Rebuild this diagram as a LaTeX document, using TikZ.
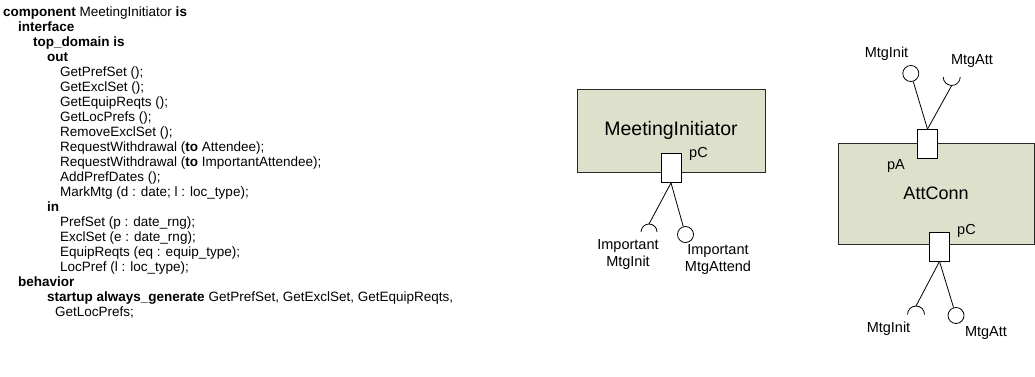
\documentclass[tikz,border=0pt]{standalone}
\usepackage{fontspec}
\setmainfont{Liberation Sans}
\usetikzlibrary{calc}

\definecolor{compfill}{RGB}{221,224,203}
\definecolor{edgegray}{RGB}{40,40,40}

\tikzset{
  code/.style={anchor=base west, inner sep=0pt, font=\fontsize{13.5}{15}\selectfont},
  comp/.style={draw=edgegray, fill=compfill, line width=0.9pt, inner sep=0pt},
  port/.style={draw=black, fill=white, line width=0.8pt, inner sep=0pt, minimum width=20pt, minimum height=29pt},
  ball/.style={circle, draw=black, fill=white, line width=0.8pt, inner sep=0pt, minimum size=16pt},
  lbl/.style={inner sep=0pt, align=center, font=\fontsize{14.5}{17}\selectfont},
  wire/.style={draw=black, line width=0.8pt}
}

\begin{document}
\begin{tikzpicture}[x=1pt,y=-1pt]

\useasboundingbox (0,0) rectangle (1035,377);

% Code listing, one line per node
\foreach \ind/\txt [count=\i] in {
  3/{\textbf{component} MeetingInitiator \textbf{is}},
  18/{\textbf{interface}},
  33/{\textbf{top\_domain is}},
  47/{\textbf{out}},
  60/{GetPrefSet ();},
  60/{GetExclSet ();},
  60/{GetEquipReqts ();},
  60/{GetLocPrefs ();},
  60/{RemoveExclSet ();},
  60/{RequestWithdrawal (\textbf{to} Attendee);},
  60/{RequestWithdrawal (\textbf{to} ImportantAttendee);},
  60/{AddPrefDates ();},
  60/{MarkMtg (d : date; l : loc\_type);},
  47/{\textbf{in}},
  60/{PrefSet (p : date\_rng);},
  60/{ExclSet (e : date\_rng);},
  60/{EquipReqts (eq : equip\_type);},
  60/{LocPref (l : loc\_type);},
  18/{\textbf{behavior}},
  47/{\textbf{startup always\_generate} GetPrefSet, GetExclSet, GetEquipReqts,},
  55/{GetLocPrefs;}}{
  \node[code] (Line\i) at (\ind, {17+14.95*(\i-1)}) {\txt};
}

% MeetingInitiator component
\node[comp, minimum width=188pt, minimum height=83pt, font=\fontsize{19.5}{22}\selectfont] (MIBox) at (671,130.5) {MeetingInitiator};
\node[port] (MIPortC) at (671,168) {};
\node[lbl, anchor=west] (MIPortCLbl) at (689,154) {pC};
\coordinate (MISock) at (649,224);
\node[ball] (MIBall) at (685.5,234.5) {};
\draw[wire] (MIPortC.south) -- (MISock);
\draw[wire] (MIPortC.south) -- (MIBall);
\draw[wire] (MISock) arc[start angle=90, end angle=180, radius=8pt];
\draw[wire] (MISock) arc[start angle=90, end angle=0, radius=8pt];
\node[lbl] (MISockLbl) at (628,255) {Important\\MtgInit};
\node[lbl] (MIBallLbl) at (718,259.5) {Important\\MtgAttend};

% AttConn connector
\node[comp, minimum width=196pt, minimum height=101pt, font=\fontsize{18}{21}\selectfont] (ACBox) at (936,193.5) {AttConn};
\node[lbl] (ACPortALbl) at (896,166) {pA};
\node[lbl, anchor=west] (ACPortCLbl) at (957,231) {pC};

\node[port] (ACPortA) at (927.5,144) {};
\node[ball] (ACTopBall) at (910.8,73.5) {};
\coordinate (ACTopSock) at (951.7,85.5);
\draw[wire] (ACPortA.north) -- (ACTopBall);
\draw[wire] (ACPortA.north) -- (ACTopSock);
\draw[wire] (ACTopSock) arc[start angle=270, end angle=180, radius=8.5pt];
\draw[wire] (ACTopSock) arc[start angle=270, end angle=360, radius=8.5pt];
\node[lbl] (ACTopBallLbl) at (886.5,53.5) {MtgInit};
\node[lbl] (ACTopSockLbl) at (972,61) {MtgAtt};

\node[port] (ACPortC) at (939.5,246.5) {};
\coordinate (ACBotSock) at (916,306);
\node[ball] (ACBotBall) at (956,315.5) {};
\draw[wire] (ACPortC.south) -- (ACBotSock);
\draw[wire] (ACPortC.south) -- (ACBotBall);
\draw[wire] (ACBotSock) arc[start angle=90, end angle=180, radius=8.5pt];
\draw[wire] (ACBotSock) arc[start angle=90, end angle=0, radius=8.5pt];
\node[lbl] (ACBotSockLbl) at (888.5,329) {MtgInit};
\node[lbl] (ACBotBallLbl) at (986,333) {MtgAtt};

\end{tikzpicture}
\end{document}
